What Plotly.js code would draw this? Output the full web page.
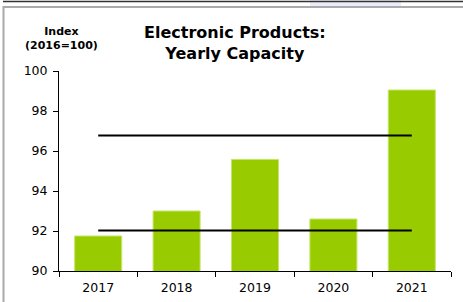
<!DOCTYPE html>
<html>
<head>
<meta charset="utf-8">
<script src="https://cdn.plot.ly/plotly-3.0.1.min.js"></script>
<style>html,body{margin:0;padding:0;background:#fff;}#chart{width:463px;height:302px;}</style>
</head>
<body>
<div id="chart"></div>
<script>
// Data
const years = ['2017', '2018', '2019', '2020', '2021'];
const capacityIndex = [91.75, 93.0, 95.58, 92.6, 99.05];
const lineYears = ['2017', '2021'];
const upperLevel = [96.78, 96.78];
const lowerLevel = [92.03, 92.03];
const yTickVals = [90, 92, 94, 96, 98, 100];

const FONT = 'DejaVu Sans, Liberation Sans, Arial, sans-serif';
const W = 463, H = 302;
const M = {l: 59, r: 12, t: 71, b: 31};
const pw = W - M.l - M.r, ph = H - M.t - M.b;
const px = x => (x - M.l) / pw;
const py = y => (H - M.b - y) / ph;

const traces = [
  {
    type: 'bar', x: years, y: capacityIndex,
    marker: {color: '#99CC00', line: {color: '#c4e46a', width: 1}},
    hoverinfo: 'skip', showlegend: false
  },
  {
    type: 'scatter', mode: 'lines', x: lineYears, y: upperLevel,
    line: {color: '#000', width: 2}, hoverinfo: 'skip', showlegend: false
  },
  {
    type: 'scatter', mode: 'lines', x: lineYears, y: lowerLevel,
    line: {color: '#000', width: 2}, hoverinfo: 'skip', showlegend: false
  }
];

const layout = {
  width: W, height: H,
  margin: M,
  paper_bgcolor: '#fff', plot_bgcolor: '#fff',
  font: {family: FONT, size: 12.5, color: '#000'},
  bargap: 0.4,
  xaxis: {
    type: 'category', range: [-0.5, 4.5], tickson: 'boundaries',
    ticks: 'outside', ticklen: 5, tickcolor: '#000', tickwidth: 1,
    showline: true, linecolor: '#000', linewidth: 1, showgrid: false,
    ticklabelstandoff: 5,
    tickfont: {family: FONT, size: 12.5, color: '#000'}, fixedrange: true
  },
  yaxis: {
    range: [90, 100], tickvals: yTickVals,
    ticks: 'outside', ticklen: 5, tickcolor: '#000', tickwidth: 1,
    showline: true, linecolor: '#000', linewidth: 1, showgrid: false, zeroline: false,
    ticklabelstandoff: 3,
    tickfont: {family: FONT, size: 12.5, color: '#000'}, fixedrange: true
  },
  annotations: [
    {
      text: '<b>Electronic Products:<br>Yearly Capacity</b>',
      xref: 'paper', yref: 'paper', x: px(235), y: py(43),
      xanchor: 'center', yanchor: 'middle', showarrow: false,
      font: {family: FONT, size: 16, color: '#000'}
    },
    {
      text: '<b>Index<br>(2016=100)</b>',
      xref: 'paper', yref: 'paper', x: px(61), y: py(38.5),
      xanchor: 'center', yanchor: 'middle', showarrow: false,
      font: {family: FONT, size: 11, color: '#000'}
    }
  ],
  shapes: [
    {type: 'rect', xref: 'paper', yref: 'paper', x0: px(310), x1: px(401), y0: py(0), y1: py(6),
     fillcolor: '#ececf8', line: {width: 0}, layer: 'below'},
    {type: 'line', xref: 'paper', yref: 'paper', x0: px(3), x1: px(463), y0: py(1.5), y1: py(1.5),
     line: {color: '#333', width: 1.5}},
    {type: 'line', xref: 'paper', yref: 'paper', x0: px(3), x1: px(463), y0: py(7), y1: py(7),
     line: {color: '#aaa', width: 2}},
    {type: 'line', xref: 'paper', yref: 'paper', x0: px(3.5), x1: px(3.5), y0: py(6), y1: py(302),
     line: {color: '#aaa', width: 2}}
  ]
};

Plotly.newPlot('chart', traces, layout, {displayModeBar: false, staticPlot: true});
</script>
</body>
</html>
